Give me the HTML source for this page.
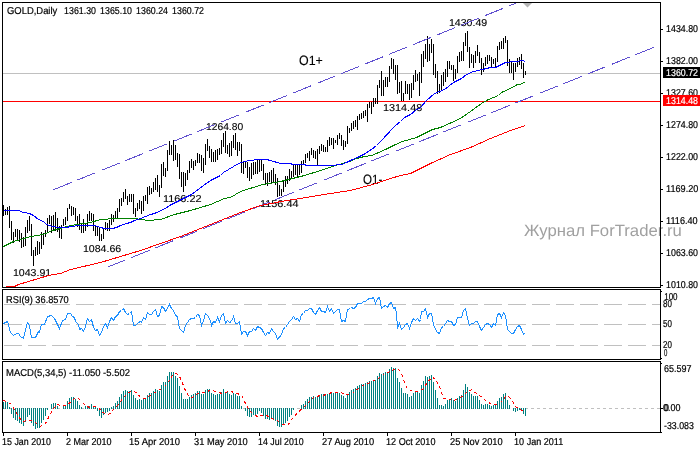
<!DOCTYPE html><html><head><meta charset="utf-8"><style>html,body{margin:0;padding:0;background:#fff;overflow:hidden}svg{display:block;will-change:transform}text{font-family:"Liberation Sans",sans-serif}</style></head><body>
<svg width="700" height="450" viewBox="0 0 700 450">
<rect x="0" y="0" width="700" height="450" fill="#fff"/>
<defs><clipPath id="cm"><rect x="3" y="3" width="657" height="284"/></clipPath><clipPath id="cr"><rect x="3" y="290" width="657" height="69"/></clipPath><clipPath id="cd"><rect x="3" y="362" width="657" height="70"/></clipPath></defs>
<g clip-path="url(#cm)">
<path d="M3 73.5H660" stroke="#c0c0c0" stroke-width="1" shape-rendering="crispEdges"/>
<path d="M3 101.5H660" stroke="#ff0000" stroke-width="1" shape-rendering="crispEdges"/>
<path d="M3.5 205V216M5.5 209V215M7.5 207V215M9.5 206V228M11.5 221V240M13.5 232V243M15.5 229V237M17.5 229V240M19.5 230V242M21.5 233V248M23.5 237V247M25.5 227V246M27.5 220V233M29.5 216V231M31.5 224V256M33.5 250V266M35.5 247V256M37.5 241V255M39.5 242V254M41.5 232V249M43.5 233V245M45.5 230V237M47.5 218V232M49.5 215V224M51.5 216V233M53.5 215V230M55.5 212V231M57.5 218V232M59.5 226V238M61.5 225V239M63.5 219V226M65.5 217V225M67.5 208V221M69.5 204V209M71.5 206V216M73.5 207V215M75.5 208V221M77.5 216V227M79.5 214V230M81.5 224V233M83.5 219V233M85.5 224V231M87.5 214V227M89.5 211V221M91.5 213V221M93.5 214V231M95.5 226V236M97.5 227V236M99.5 228V241M101.5 234V241M103.5 228V239M105.5 222V230M107.5 223V231M109.5 220V231M111.5 214V225M113.5 215V222M115.5 211V219M117.5 208V219M119.5 199V212M121.5 198V206M123.5 192V202M125.5 189V199M127.5 196V205M129.5 194V202M131.5 194V202M133.5 194V214M135.5 208V217M137.5 203V211M139.5 200V209M141.5 201V214M143.5 196V211M145.5 195V201M147.5 187V204M149.5 186V195M151.5 188V194M153.5 182V192M155.5 178V190M157.5 175V192M159.5 185V197M161.5 164V188M163.5 162V176M165.5 168V177M167.5 150V171M169.5 141V155M171.5 145V155M173.5 140V161M175.5 145V160M177.5 153V167M179.5 154V179M181.5 172V187M183.5 172V192M185.5 173V186M187.5 170V180M189.5 161V173M191.5 159V168M193.5 161V170M195.5 160V166M197.5 153V163M199.5 154V163M201.5 155V171M203.5 158V173M205.5 144V165M207.5 139V151M209.5 146V158M211.5 149V162M213.5 152V162M215.5 150V162M217.5 149V160M219.5 148V155M221.5 140V154M223.5 133V147M225.5 131V153M227.5 145V154M229.5 143V157M231.5 141V156M233.5 135V148M235.5 133V150M237.5 142V156M239.5 142V151M241.5 144V173M243.5 161V174M245.5 161V168M247.5 162V178M249.5 167V181M251.5 163V179M253.5 162V175M255.5 162V174M257.5 160V174M259.5 159V172M261.5 160V171M263.5 164V180M265.5 173V184M267.5 173V186M269.5 172V182M271.5 170V183M273.5 168V182M275.5 174V185M277.5 178V197M279.5 185V196M281.5 189V196M283.5 180V192M285.5 176V187M287.5 176V184M289.5 169V181M291.5 171V179M293.5 165V177M295.5 165V175M297.5 165V177M299.5 164V175M301.5 161V173M303.5 160V165M305.5 154V163M307.5 153V158M309.5 151V161M311.5 148V155M313.5 150V158M315.5 151V159M317.5 149V166M319.5 146V154M321.5 144V151M323.5 145V152M325.5 147V152M327.5 140V152M329.5 137V146M331.5 138V145M333.5 138V149M335.5 140V143M337.5 135V145M339.5 133V139M341.5 135V146M343.5 140V150M345.5 141V147M347.5 126V144M349.5 128V133M351.5 123V131M353.5 121V129M355.5 120V127M357.5 116V130M359.5 114V120M361.5 113V119M363.5 111V118M365.5 110V116M367.5 104V122M369.5 102V108M371.5 102V114M373.5 98V107M375.5 98V104M377.5 85V104M379.5 80V88M381.5 71V96M383.5 80V96M385.5 77V87M387.5 77V87M389.5 66V82M391.5 58V69M393.5 59V74M395.5 65V80M397.5 65V94M399.5 82V93M401.5 81V101M403.5 93V101M405.5 81V94M407.5 84V94M409.5 84V100M411.5 83V98M413.5 75V90M415.5 70V82M417.5 74V81M419.5 72V96M421.5 54V83M423.5 51V67M425.5 44V59M427.5 36V62M429.5 44V61M431.5 39V53M433.5 44V75M435.5 64V78M437.5 71V94M439.5 84V93M441.5 75V91M443.5 72V86M445.5 69V82M447.5 61V77M449.5 61V69M451.5 65V70M453.5 65V81M455.5 69V79M457.5 56V73M459.5 52V62M461.5 51V61M463.5 42V61M465.5 33V46M467.5 31V52M469.5 47V68M471.5 54V63M473.5 55V68M475.5 51V63M477.5 45V56M479.5 52V63M481.5 58V75M483.5 63V72M485.5 57V66M487.5 55V64M489.5 55V61M491.5 57V67M493.5 59V64M495.5 58V68M497.5 46V62M499.5 42V50M501.5 41V49M503.5 38V49M505.5 36V43M507.5 40V66M509.5 59V73M511.5 62V73M513.5 63V80M515.5 63V72M517.5 58V67M519.5 57V65M521.5 54V69M523.5 63V78M525.5 71V75" stroke="#000" stroke-width="1" shape-rendering="crispEdges"/>
<text x="12.94" y="276" font-size="10" fill="#000" textLength="38.28" lengthAdjust="spacingAndGlyphs" text-rendering="geometricPrecision" stroke="#000" stroke-width="0.12">1043.91</text>
<text x="82.94" y="252" font-size="10" fill="#000" textLength="38.28" lengthAdjust="spacingAndGlyphs" text-rendering="geometricPrecision" stroke="#000" stroke-width="0.12">1084.66</text>
<text x="205.97" y="130" font-size="10" fill="#000" textLength="37.22" lengthAdjust="spacingAndGlyphs" text-rendering="geometricPrecision" stroke="#000" stroke-width="0.12">1264.80</text>
<text x="162.91" y="202" font-size="10" fill="#000" textLength="38.62" lengthAdjust="spacingAndGlyphs" text-rendering="geometricPrecision" stroke="#000" stroke-width="0.12">1166.22</text>
<text x="259.91" y="207" font-size="10" fill="#000" textLength="38.62" lengthAdjust="spacingAndGlyphs" text-rendering="geometricPrecision" stroke="#000" stroke-width="0.12">1156.44</text>
<text x="382.91" y="111" font-size="10" fill="#000" textLength="39.35" lengthAdjust="spacingAndGlyphs" text-rendering="geometricPrecision" stroke="#000" stroke-width="0.12">1314.48</text>
<text x="448.94" y="26" font-size="10" fill="#000" textLength="38.28" lengthAdjust="spacingAndGlyphs" text-rendering="geometricPrecision" stroke="#000" stroke-width="0.12">1430.49</text>
<text x="299.00" y="65" font-size="13.5" fill="#000" textLength="23.83" lengthAdjust="spacingAndGlyphs" text-rendering="geometricPrecision" stroke="#000" stroke-width="0.12">O1+</text>
<text x="363.00" y="184" font-size="13.5" fill="#000" textLength="19.30" lengthAdjust="spacingAndGlyphs" text-rendering="geometricPrecision" stroke="#000" stroke-width="0.12">O1-</text>
<path d="M53.5 189.69L560 -14.63" stroke="#6050d0" stroke-width="1" stroke-dasharray="19.4 6.47" fill="none" shape-rendering="crispEdges"/>
<path d="M107.5 267.18L660 44.88" stroke="#6050d0" stroke-width="1" stroke-dasharray="19.4 6.47" fill="none" shape-rendering="crispEdges"/>
<polyline points="3.5,287.5 8.5,286.5 14.5,286.5 18.5,284.5 28.5,281.5 38.5,278.5 48.5,275.5 53.5,274.5 60.5,273.5 70.5,269.5 100.5,262.5 130.5,253.5 140.5,250.5 160.5,243.5 180.5,236.5 200.5,228.5 220.5,220.5 240.5,212.5 260.5,205.5 276.5,202.5 280.5,201.5 300.5,198.5 330.5,193.5 350.5,190.5 372.5,184.5 390.5,178.5 400.5,175.5 410.5,173.5 430.5,163.5 450.5,154.5 470.5,147.5 490.5,138.5 510.5,130.5 525.5,125.5" stroke="#ff0000" stroke-width="1" fill="none" shape-rendering="crispEdges"/>
<polyline points="3.5,246.5 13.5,241.5 20.5,239.5 30.5,236.5 38.5,235.5 45.5,233.5 52.5,230.5 60.5,228.5 70.5,225.5 90.5,222.5 100.5,219.5 116.5,218.5 135.5,218.5 140.5,219.5 148.5,220.5 160.5,219.5 174.5,214.5 190.5,210.5 210.5,204.5 224.5,198.5 230.5,197.5 240.5,191.5 262.5,184.5 275.5,182.5 280.5,181.5 304.5,175.5 320.5,170.5 335.5,165.5 342.5,163.5 349.5,161.5 356.5,158.5 364.5,156.5 371.5,155.5 376.5,153.5 385.5,149.5 395.5,144.5 402.5,141.5 416.5,137.5 432.5,129.5 440.5,127.5 460.5,118.5 470.5,111.5 481.5,103.5 488.5,99.5 498.5,95.5 501.5,92.5 510.5,88.5 517.5,84.5 520.5,84.5 525.5,81.5" stroke="#008000" stroke-width="1" fill="none" shape-rendering="crispEdges"/>
<polyline points="3.5,210.5 18.5,210.5 23.5,212.5 29.5,213.5 33.5,215.5 38.5,219.5 43.5,221.5 46.5,224.5 52.5,226.5 59.5,227.5 66.5,227.5 70.5,226.5 80.5,225.5 94.5,225.5 97.5,226.5 100.5,227.5 104.5,228.5 112.5,228.5 116.5,227.5 120.5,225.5 126.5,223.5 130.5,222.5 134.5,220.5 140.5,218.5 150.5,214.5 154.5,213.5 165.5,208.5 169.5,205.5 177.5,201.5 183.5,198.5 191.5,194.5 199.5,188.5 210.5,180.5 220.5,175.5 223.5,172.5 228.5,169.5 238.5,163.5 244.5,161.5 250.5,160.5 257.5,159.5 266.5,159.5 270.5,160.5 280.5,163.5 290.5,163.5 292.5,164.5 304.5,164.5 306.5,165.5 330.5,165.5 341.5,164.5 346.5,162.5 352.5,159.5 357.5,157.5 361.5,155.5 365.5,153.5 369.5,150.5 371.5,149.5 376.5,145.5 380.5,141.5 394.5,126.5 400.5,121.5 404.5,117.5 410.5,114.5 415.5,110.5 420.5,107.5 426.5,100.5 434.5,93.5 444.5,89.5 453.5,82.5 461.5,78.5 466.5,74.5 473.5,71.5 482.5,69.5 490.5,67.5 495.5,67.5 505.5,62.5 515.5,61.5 522.5,60.5 525.5,61.5" stroke="#0000ff" stroke-width="1" fill="none" shape-rendering="crispEdges"/>
<path d="M523 3H532L527.5 7.5Z" fill="#b4b4b4"/>
</g>
<text x="524.00" y="236" font-size="16.5" fill="#a0a0a0" textLength="157.90" lengthAdjust="spacingAndGlyphs" text-rendering="geometricPrecision">Журнал ForTrader.ru</text>
<g clip-path="url(#cr)">
<path d="M4 304.5H660" stroke="#c0c0c0" stroke-width="1" stroke-dasharray="18 6" shape-rendering="crispEdges"/>
<path d="M4 324.5H660" stroke="#c0c0c0" stroke-width="1" stroke-dasharray="18 6" shape-rendering="crispEdges"/>
<path d="M4 345.5H660" stroke="#c0c0c0" stroke-width="1" stroke-dasharray="18 6" shape-rendering="crispEdges"/>
<polyline points="3.5,323.5 7.5,321.5 10.5,332.5 13.5,335.5 16.5,333.5 18.5,333.5 20.5,336.5 23.5,338.5 25.5,329.5 27.5,322.5 29.5,325.5 31.5,337.5 35.5,337.5 37.5,333.5 38.5,331.5 39.5,332.5 41.5,324.5 44.5,324.5 47.5,316.5 51.5,315.5 54.5,318.5 59.5,328.5 62.5,320.5 65.5,319.5 67.5,313.5 70.5,313.5 72.5,316.5 74.5,317.5 75.5,321.5 78.5,324.5 79.5,329.5 81.5,328.5 83.5,331.5 85.5,326.5 87.5,318.5 89.5,321.5 91.5,319.5 93.5,327.5 95.5,330.5 97.5,329.5 99.5,335.5 101.5,332.5 103.5,326.5 105.5,323.5 107.5,327.5 109.5,321.5 111.5,317.5 113.5,320.5 115.5,316.5 117.5,315.5 119.5,311.5 121.5,310.5 123.5,308.5 125.5,312.5 127.5,314.5 129.5,313.5 131.5,311.5 133.5,325.5 135.5,325.5 138.5,322.5 140.5,321.5 141.5,322.5 143.5,317.5 145.5,319.5 147.5,312.5 149.5,314.5 151.5,314.5 153.5,311.5 155.5,309.5 157.5,316.5 159.5,315.5 161.5,306.5 163.5,307.5 165.5,311.5 169.5,304.5 171.5,308.5 173.5,310.5 175.5,315.5 177.5,316.5 179.5,328.5 181.5,330.5 183.5,332.5 185.5,325.5 187.5,322.5 189.5,319.5 191.5,318.5 193.5,318.5 195.5,317.5 197.5,314.5 199.5,315.5 201.5,325.5 203.5,320.5 205.5,313.5 207.5,315.5 210.5,320.5 211.5,325.5 213.5,321.5 215.5,322.5 217.5,317.5 219.5,321.5 221.5,315.5 223.5,313.5 225.5,323.5 227.5,320.5 229.5,322.5 231.5,321.5 233.5,316.5 235.5,323.5 237.5,323.5 239.5,321.5 241.5,334.5 243.5,331.5 245.5,331.5 247.5,335.5 249.5,331.5 251.5,331.5 253.5,328.5 255.5,330.5 257.5,326.5 259.5,327.5 261.5,328.5 263.5,332.5 265.5,335.5 267.5,332.5 269.5,333.5 271.5,328.5 273.5,331.5 275.5,333.5 277.5,339.5 281.5,334.5 283.5,328.5 285.5,327.5 287.5,324.5 289.5,321.5 291.5,319.5 293.5,316.5 295.5,319.5 297.5,318.5 299.5,321.5 301.5,314.5 303.5,313.5 305.5,310.5 307.5,310.5 309.5,308.5 311.5,308.5 313.5,312.5 315.5,314.5 317.5,310.5 319.5,307.5 321.5,311.5 323.5,311.5 325.5,312.5 327.5,306.5 329.5,311.5 331.5,308.5 333.5,313.5 335.5,311.5 337.5,309.5 339.5,309.5 341.5,321.5 343.5,320.5 345.5,321.5 347.5,309.5 350.5,308.5 351.5,307.5 353.5,308.5 355.5,307.5 357.5,303.5 359.5,303.5 361.5,303.5 363.5,301.5 365.5,301.5 367.5,299.5 369.5,298.5 371.5,298.5 373.5,297.5 375.5,303.5 377.5,298.5 379.5,297.5 381.5,308.5 383.5,306.5 385.5,305.5 387.5,307.5 389.5,303.5 391.5,302.5 393.5,308.5 395.5,307.5 396.5,313.5 397.5,327.5 399.5,323.5 401.5,329.5 403.5,327.5 405.5,324.5 407.5,323.5 409.5,328.5 411.5,322.5 413.5,318.5 415.5,320.5 417.5,318.5 419.5,321.5 420.5,319.5 421.5,311.5 423.5,311.5 425.5,308.5 427.5,317.5 429.5,313.5 431.5,313.5 433.5,324.5 435.5,329.5 437.5,332.5 439.5,333.5 441.5,327.5 443.5,326.5 445.5,323.5 447.5,320.5 449.5,321.5 451.5,321.5 453.5,325.5 455.5,324.5 457.5,317.5 459.5,317.5 461.5,317.5 463.5,310.5 465.5,308.5 467.5,318.5 469.5,325.5 471.5,323.5 473.5,323.5 475.5,321.5 477.5,321.5 479.5,326.5 481.5,330.5 483.5,327.5 485.5,324.5 487.5,323.5 489.5,324.5 491.5,327.5 493.5,323.5 495.5,325.5 497.5,314.5 499.5,313.5 501.5,317.5 503.5,312.5 505.5,315.5 507.5,329.5 509.5,331.5 511.5,333.5 513.5,333.5 515.5,329.5 517.5,326.5 519.5,325.5 521.5,329.5 523.5,334.5 524.5,333.5" stroke="#1e90ff" stroke-width="1" fill="none" shape-rendering="crispEdges"/>
</g>
<g clip-path="url(#cd)">
<path d="M3 408.5H660" stroke="#c0c0c0" stroke-width="1" stroke-dasharray="3 3" shape-rendering="crispEdges"/>
<path d="M3.5 402V409M5.5 402V409M7.5 402V409M9.5 407V409M11.5 408V414M13.5 408V418M15.5 408V420M17.5 408V421M19.5 408V423M21.5 408V424M23.5 408V426M25.5 408V422M27.5 408V417M29.5 408V415M31.5 408V423M33.5 408V426M35.5 408V429M37.5 408V428M39.5 408V428M41.5 408V423M43.5 408V420M45.5 408V416M47.5 408V410M51.5 404V409M53.5 403V409M55.5 403V409M57.5 406V409M63.5 406V409M65.5 405V409M67.5 401V409M69.5 398V409M71.5 397V409M73.5 397V409M75.5 399V409M77.5 401V409M79.5 405V409M81.5 407V409M85.5 406V409M87.5 407V409M89.5 406V409M91.5 404V409M93.5 407V409M95.5 407V409M97.5 408V411M99.5 408V416M101.5 408V418M103.5 408V415M105.5 408V413M107.5 408V412M109.5 408V411M111.5 407V409M113.5 406V409M115.5 403V409M117.5 401V409M119.5 397V409M121.5 394V409M123.5 391V409M125.5 390V409M127.5 391V409M129.5 391V409M131.5 390V409M133.5 395V409M135.5 398V409M137.5 400V409M139.5 399V409M141.5 400V409M143.5 398V409M145.5 398V409M147.5 395V409M149.5 393V409M151.5 393V409M153.5 391V409M155.5 389V409M157.5 390V409M159.5 391V409M161.5 385V409M163.5 382V409M165.5 382V409M167.5 376V409M169.5 372V409M171.5 372V409M173.5 372V409M175.5 376V409M177.5 378V409M179.5 386V409M181.5 393V409M183.5 399V409M185.5 399V409M187.5 399V409M189.5 397V409M191.5 395V409M193.5 394V409M195.5 393V409M197.5 391V409M199.5 391V409M201.5 394V409M203.5 394V409M205.5 390V409M207.5 389V409M209.5 389V409M211.5 393V409M213.5 394V409M215.5 395V409M217.5 394V409M219.5 394V409M221.5 392V409M223.5 389V409M225.5 392V409M227.5 392V409M229.5 394V409M231.5 395V409M233.5 393V409M235.5 394V409M237.5 396V409M239.5 396V409M241.5 406V409M245.5 408V411M247.5 408V416M249.5 408V417M251.5 408V417M253.5 408V415M255.5 408V415M257.5 408V414M259.5 408V411M261.5 408V413M263.5 408V416M265.5 408V419M267.5 408V419M269.5 408V420M271.5 408V419M273.5 408V420M275.5 408V421M277.5 408V426M279.5 408V427M281.5 408V427M283.5 408V424M285.5 408V423M287.5 408V421M289.5 408V417M291.5 408V415M293.5 408V410M301.5 405V409M303.5 404V409M305.5 401V409M307.5 399V409M309.5 397V409M311.5 397V409M313.5 396V409M315.5 397V409M317.5 397V409M319.5 396V409M321.5 394V409M323.5 394V409M325.5 394V409M327.5 394V409M329.5 393V409M331.5 392V409M333.5 393V409M335.5 393V409M337.5 392V409M339.5 393V409M341.5 395V409M343.5 396V409M345.5 398V409M347.5 394V409M349.5 392V409M351.5 390V409M353.5 389V409M355.5 388V409M357.5 386V409M359.5 385V409M361.5 384V409M363.5 384V409M365.5 383V409M367.5 382V409M369.5 381V409M371.5 381V409M373.5 380V409M375.5 380V409M377.5 376V409M379.5 373V409M381.5 374V409M383.5 373V409M385.5 372V409M387.5 372V409M389.5 369V409M391.5 367V409M393.5 368V409M395.5 368V409M397.5 378V409M399.5 382V409M401.5 388V409M403.5 393V409M405.5 393V409M407.5 394V409M409.5 397V409M411.5 396V409M413.5 393V409M415.5 392V409M417.5 391V409M419.5 393V409M421.5 385V409M423.5 381V409M425.5 376V409M427.5 377V409M429.5 376V409M431.5 375V409M433.5 382V409M435.5 390V409M437.5 398V409M439.5 405V409M441.5 405V409M443.5 406V409M445.5 404V409M447.5 400V409M449.5 399V409M451.5 398V409M453.5 400V409M455.5 401V409M457.5 398V409M459.5 396V409M461.5 395V409M463.5 390V409M465.5 384V409M467.5 387V409M469.5 392V409M471.5 394V409M473.5 396V409M475.5 396V409M477.5 396V409M479.5 400V409M481.5 404V409M483.5 405V409M485.5 404V409M487.5 404V409M489.5 405V409M491.5 406V409M493.5 405V409M495.5 404V409M497.5 401V409M499.5 398V409M501.5 397V409M503.5 394V409M505.5 393V409M507.5 400V409M509.5 405V409M513.5 408V411M515.5 408V412M517.5 408V411M519.5 408V410M521.5 408V411M523.5 408V414M525.5 408V416" stroke="#008080" stroke-width="1" shape-rendering="crispEdges"/>
<polyline points="3.5,400.5 10.5,403.5 14.5,409.5 18.5,416.5 22.5,421.5 28.5,420.5 34.5,421.5 40.5,426.5 45.5,423.5 49.5,415.5 52.5,410.5 56.5,404.5 61.5,405.5 67.5,405.5 71.5,400.5 74.5,398.5 78.5,398.5 81.5,401.5 85.5,405.5 89.5,407.5 92.5,406.5 95.5,406.5 98.5,407.5 102.5,412.5 107.5,414.5 110.5,413.5 113.5,409.5 115.5,407.5 118.5,404.5 120.5,401.5 122.5,398.5 125.5,395.5 128.5,392.5 131.5,391.5 134.5,391.5 137.5,393.5 140.5,397.5 145.5,398.5 151.5,394.5 158.5,390.5 164.5,386.5 168.5,381.5 172.5,375.5 175.5,373.5 178.5,374.5 181.5,380.5 184.5,388.5 188.5,395.5 191.5,397.5 194.5,396.5 197.5,393.5 200.5,392.5 203.5,392.5 206.5,391.5 210.5,390.5 216.5,391.5 218.5,392.5 222.5,393.5 224.5,392.5 230.5,391.5 234.5,392.5 236.5,393.5 240.5,394.5 242.5,396.5 244.5,401.5 247.5,407.5 251.5,412.5 253.5,414.5 257.5,416.5 259.5,415.5 265.5,415.5 269.5,416.5 271.5,418.5 274.5,419.5 277.5,420.5 280.5,423.5 283.5,424.5 287.5,424.5 289.5,423.5 291.5,419.5 293.5,417.5 297.5,412.5 302.5,408.5 304.5,406.5 308.5,402.5 310.5,400.5 314.5,396.5 316.5,396.5 320.5,395.5 322.5,395.5 326.5,394.5 328.5,393.5 332.5,392.5 340.5,392.5 343.5,393.5 345.5,394.5 349.5,394.5 352.5,393.5 355.5,390.5 358.5,388.5 361.5,386.5 364.5,384.5 367.5,383.5 370.5,382.5 373.5,380.5 376.5,380.5 379.5,377.5 382.5,375.5 385.5,372.5 388.5,372.5 391.5,370.5 394.5,369.5 398.5,369.5 400.5,371.5 402.5,376.5 404.5,382.5 406.5,387.5 410.5,390.5 416.5,391.5 422.5,389.5 427.5,382.5 432.5,376.5 436.5,381.5 439.5,386.5 441.5,392.5 443.5,398.5 453.5,400.5 459.5,398.5 465.5,393.5 471.5,389.5 476.5,393.5 482.5,397.5 484.5,399.5 488.5,402.5 490.5,403.5 494.5,404.5 496.5,404.5 500.5,402.5 502.5,400.5 505.5,396.5 507.5,395.5 511.5,399.5 512.5,400.5 514.5,405.5 515.5,406.5 519.5,409.5 522.5,410.5 525.5,411.5" stroke="#ff0000" stroke-width="1" stroke-dasharray="3 3" fill="none" shape-rendering="crispEdges"/>
</g>
<path d="M2.5 2.5H660.5V287.5H2.5Z" stroke="#000" stroke-width="1" fill="none" shape-rendering="crispEdges"/>
<path d="M2.5 289.5H660.5V359.5H2.5Z" stroke="#000" stroke-width="1" fill="none" shape-rendering="crispEdges"/>
<path d="M2.5 361.5H660.5V432.5H2.5Z" stroke="#000" stroke-width="1" fill="none" shape-rendering="crispEdges"/>
<path d="M660 29.5H663M660 61.5H663M660 93.5H663M660 125.5H663M660 157.5H663M660 189.5H663M660 221.5H663M660 253.5H663M660 285.5H663M660 291.5H662M660 358.5H662M660 363.5H662M660 432.5H662M3.5 433V436M67.5 433V436M131.5 433V436M195.5 433V436M259.5 433V436M323.5 433V436M387.5 433V436M451.5 433V436M515.5 433V436" stroke="#000" stroke-width="1" shape-rendering="crispEdges"/>
<text x="666.12" y="32" font-size="10" fill="#000" textLength="31.90" lengthAdjust="spacingAndGlyphs" text-rendering="geometricPrecision" stroke="#000" stroke-width="0.2">1434.80</text>
<text x="666.12" y="64" font-size="10" fill="#000" textLength="31.90" lengthAdjust="spacingAndGlyphs" text-rendering="geometricPrecision" stroke="#000" stroke-width="0.2">1382.00</text>
<text x="666.12" y="96" font-size="10" fill="#000" textLength="31.90" lengthAdjust="spacingAndGlyphs" text-rendering="geometricPrecision" stroke="#000" stroke-width="0.2">1327.60</text>
<text x="666.12" y="128" font-size="10" fill="#000" textLength="31.90" lengthAdjust="spacingAndGlyphs" text-rendering="geometricPrecision" stroke="#000" stroke-width="0.2">1274.80</text>
<text x="666.12" y="160" font-size="10" fill="#000" textLength="31.90" lengthAdjust="spacingAndGlyphs" text-rendering="geometricPrecision" stroke="#000" stroke-width="0.2">1222.00</text>
<text x="666.09" y="192" font-size="10" fill="#000" textLength="32.19" lengthAdjust="spacingAndGlyphs" text-rendering="geometricPrecision" stroke="#000" stroke-width="0.2">1169.20</text>
<text x="666.09" y="224" font-size="10" fill="#000" textLength="31.52" lengthAdjust="spacingAndGlyphs" text-rendering="geometricPrecision" stroke="#000" stroke-width="0.2">1116.40</text>
<text x="666.12" y="256" font-size="10" fill="#000" textLength="31.90" lengthAdjust="spacingAndGlyphs" text-rendering="geometricPrecision" stroke="#000" stroke-width="0.2">1063.60</text>
<text x="666.12" y="288" font-size="10" fill="#000" textLength="31.90" lengthAdjust="spacingAndGlyphs" text-rendering="geometricPrecision" stroke="#000" stroke-width="0.2">1010.80</text>
<text x="664.20" y="300" font-size="10" fill="#000" textLength="13.35" lengthAdjust="spacingAndGlyphs" text-rendering="geometricPrecision" stroke="#000" stroke-width="0.2">100</text>
<text x="663.00" y="307" font-size="10" fill="#000" textLength="8.90" lengthAdjust="spacingAndGlyphs" text-rendering="geometricPrecision" stroke="#000" stroke-width="0.2">80</text>
<text x="663.00" y="327" font-size="10" fill="#000" textLength="8.90" lengthAdjust="spacingAndGlyphs" text-rendering="geometricPrecision" stroke="#000" stroke-width="0.2">50</text>
<text x="663.00" y="348" font-size="10" fill="#000" textLength="8.90" lengthAdjust="spacingAndGlyphs" text-rendering="geometricPrecision" stroke="#000" stroke-width="0.2">20</text>
<text x="664.00" y="356" font-size="10" fill="#000" textLength="3.34" lengthAdjust="spacingAndGlyphs" text-rendering="geometricPrecision" stroke="#000" stroke-width="0.2">0</text>
<text x="664.00" y="372" font-size="10" fill="#000" textLength="27.43" lengthAdjust="spacingAndGlyphs" text-rendering="geometricPrecision" stroke="#000" stroke-width="0.2">65.597</text>
<text x="663.00" y="411" font-size="10" fill="#000" textLength="17.42" lengthAdjust="spacingAndGlyphs" text-rendering="geometricPrecision" stroke="#000" stroke-width="0.2">0.00</text>
<text x="664.00" y="429" font-size="10" fill="#000" textLength="29.81" lengthAdjust="spacingAndGlyphs" text-rendering="geometricPrecision" stroke="#000" stroke-width="0.2">-33.083</text>
<text x="7.00" y="14" font-size="10" fill="#000" textLength="50.28" lengthAdjust="spacingAndGlyphs" text-rendering="geometricPrecision" stroke="#000" stroke-width="0.2">GOLD,Daily</text>
<text x="64.12" y="14" font-size="10" fill="#000" textLength="31.90" lengthAdjust="spacingAndGlyphs" text-rendering="geometricPrecision" stroke="#000" stroke-width="0.2">1361.30</text>
<text x="100.12" y="14" font-size="10" fill="#000" textLength="31.90" lengthAdjust="spacingAndGlyphs" text-rendering="geometricPrecision" stroke="#000" stroke-width="0.2">1365.10</text>
<text x="136.12" y="14" font-size="10" fill="#000" textLength="31.90" lengthAdjust="spacingAndGlyphs" text-rendering="geometricPrecision" stroke="#000" stroke-width="0.2">1360.24</text>
<text x="172.12" y="14" font-size="10" fill="#000" textLength="31.90" lengthAdjust="spacingAndGlyphs" text-rendering="geometricPrecision" stroke="#000" stroke-width="0.2">1360.72</text>
<text x="6.08" y="303" font-size="10" fill="#000" textLength="62.69" lengthAdjust="spacingAndGlyphs" text-rendering="geometricPrecision" stroke="#000" stroke-width="0.2">RSI(9) 36.8570</text>
<text x="6.05" y="376" font-size="10" fill="#000" textLength="123.89" lengthAdjust="spacingAndGlyphs" text-rendering="geometricPrecision" stroke="#000" stroke-width="0.2">MACD(5,34,5) -11.050 -5.502</text>
<text x="2.11" y="445" font-size="10" fill="#000" textLength="48.83" lengthAdjust="spacingAndGlyphs" text-rendering="geometricPrecision" stroke="#000" stroke-width="0.2">15 Jan 2010</text>
<text x="66.00" y="445" font-size="10" fill="#000" textLength="45.53" lengthAdjust="spacingAndGlyphs" text-rendering="geometricPrecision" stroke="#000" stroke-width="0.2">2 Mar 2010</text>
<text x="129.06" y="445" font-size="10" fill="#000" textLength="50.83" lengthAdjust="spacingAndGlyphs" text-rendering="geometricPrecision" stroke="#000" stroke-width="0.2">15 Apr 2010</text>
<text x="194.00" y="445" font-size="10" fill="#000" textLength="53.77" lengthAdjust="spacingAndGlyphs" text-rendering="geometricPrecision" stroke="#000" stroke-width="0.2">31 May 2010</text>
<text x="258.12" y="445" font-size="10" fill="#000" textLength="45.51" lengthAdjust="spacingAndGlyphs" text-rendering="geometricPrecision" stroke="#000" stroke-width="0.2">14 Jul 2010</text>
<text x="322.00" y="445" font-size="10" fill="#000" textLength="52.09" lengthAdjust="spacingAndGlyphs" text-rendering="geometricPrecision" stroke="#000" stroke-width="0.2">27 Aug 2010</text>
<text x="386.09" y="445" font-size="10" fill="#000" textLength="49.34" lengthAdjust="spacingAndGlyphs" text-rendering="geometricPrecision" stroke="#000" stroke-width="0.2">12 Oct 2010</text>
<text x="450.00" y="445" font-size="10" fill="#000" textLength="52.67" lengthAdjust="spacingAndGlyphs" text-rendering="geometricPrecision" stroke="#000" stroke-width="0.2">25 Nov 2010</text>
<text x="514.10" y="445" font-size="10" fill="#000" textLength="49.09" lengthAdjust="spacingAndGlyphs" text-rendering="geometricPrecision" stroke="#000" stroke-width="0.2">10 Jan 2011</text>
<rect x="663" y="67" width="37" height="11" fill="#000"/>
<rect x="663" y="95" width="37" height="11" fill="#ff0000"/>
<text x="666.12" y="76" font-size="10" fill="#fff" textLength="31.90" lengthAdjust="spacingAndGlyphs" text-rendering="geometricPrecision" stroke="#fff" stroke-width="0.2">1360.72</text>
<text x="666.12" y="104" font-size="10" fill="#fff" textLength="31.90" lengthAdjust="spacingAndGlyphs" text-rendering="geometricPrecision" stroke="#fff" stroke-width="0.2">1314.48</text>
<clipPath id="z0"><rect x="662" y="400" width="7" height="14"/></clipPath>
<text clip-path="url(#z0)" x="664.00" y="411" font-size="10" fill="#000" stroke="#000" stroke-width="0.2" textLength="17.42" lengthAdjust="spacingAndGlyphs" text-rendering="geometricPrecision">0.00</text>
<path d="M660 408.5H663" stroke="#000" stroke-width="1" shape-rendering="crispEdges"/>
</svg></body></html>
